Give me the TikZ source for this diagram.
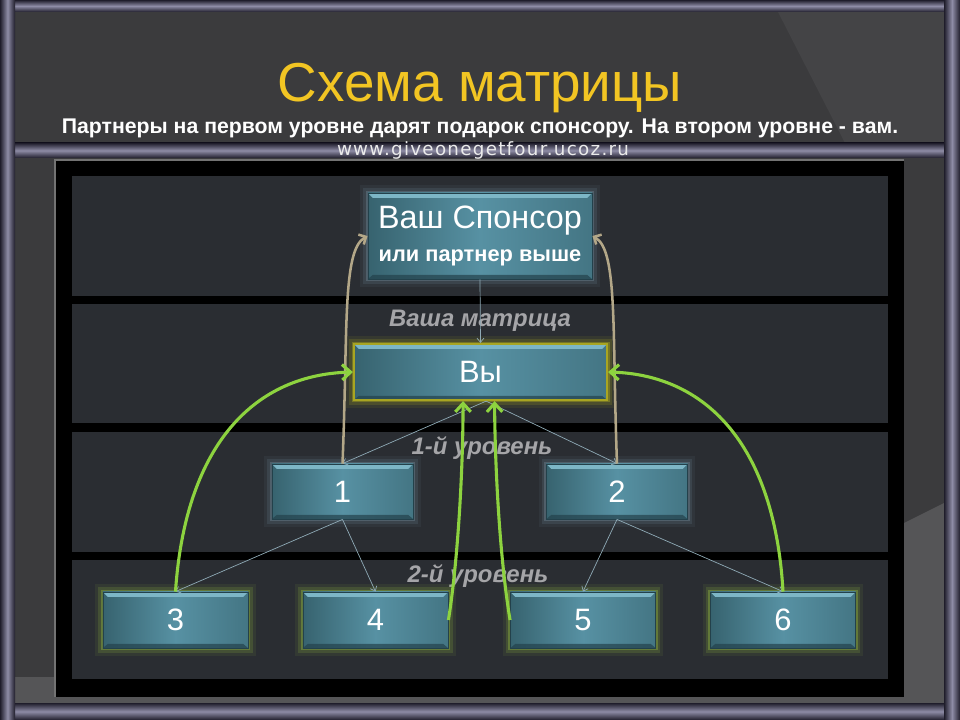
\documentclass[tikz,border=0pt]{standalone}
\usepackage{fontspec}
\setmainfont{Liberation Sans}
\newfontfamily\sitefont[LetterSpace=7]{DejaVu Sans}
\usetikzlibrary{arrows.meta}
\definecolor{bgcol}{HTML}{3B3B3D}
\definecolor{bglite}{HTML}{444446}
\definecolor{bgpale}{HTML}{555557}
\definecolor{bandd}{HTML}{1F1D2B}
\definecolor{bandl}{HTML}{8E8CA6}
\definecolor{rowcol}{HTML}{2A2D32}
\definecolor{boxdark}{HTML}{37636F}
\definecolor{boxmid}{HTML}{5791A3}
\definecolor{boxlite}{HTML}{7DB6C6}
\definecolor{boxedge}{HTML}{23414B}
\definecolor{bluehalo}{HTML}{6A8290}
\definecolor{greenhalo}{HTML}{8AAC40}
\definecolor{yellowhalo}{HTML}{A8A522}
\definecolor{linkcol}{HTML}{8FAAB6}
\definecolor{tancol}{HTML}{B3A788}
\definecolor{greencol}{HTML}{8DD33F}
\definecolor{goldcol}{HTML}{F2C523}
\definecolor{levelcol}{HTML}{A5A5A8}

\begin{document}
\begin{tikzpicture}[x=0.025cm,y=-0.025cm,
    box/.style={draw=boxedge, line width=0.6pt, left color=boxdark, right color=boxdark!60!boxmid,
        middle color=boxmid, text=white, inner sep=0pt, font=\fontsize{22}{26}\selectfont,
        path picture={
            \fill[boxlite] (path picture bounding box.north west) -- (path picture bounding box.north east)
                -- ([xshift=-3.5pt,yshift=-3.5pt]path picture bounding box.north east)
                -- ([xshift=3.5pt,yshift=-3.5pt]path picture bounding box.north west) -- cycle;
            \fill[boxedge, opacity=0.7] (path picture bounding box.south west) -- (path picture bounding box.south east)
                -- ([xshift=-3.5pt,yshift=3pt]path picture bounding box.south east)
                -- ([xshift=3.5pt,yshift=3pt]path picture bounding box.south west) -- cycle;}},
    halo/.style={preaction={draw=#1, line width=11pt, opacity=0.1},
        preaction={draw=#1, line width=7pt, opacity=0.2},
        preaction={draw=#1, line width=3.5pt, opacity=0.45}},
    small/.style={box, halo=bluehalo, minimum width=3.525cm, minimum height=1.375cm},
    low/.style={box, halo=greenhalo, minimum width=3.625cm, minimum height=1.4cm},
    level/.style={text=levelcol, font=\fontsize{17}{20}\selectfont\bfseries\itshape, anchor=base},
    link/.style={draw=linkcol, line width=0.5pt, -{Straight Barb[length=3pt,width=5pt]}},
    upto/.style={draw=tancol, line width=1.8pt, -{Straight Barb[length=4pt,width=8pt]}},
    gift/.style={draw=greencol, line width=2.2pt, -{Straight Barb[length=6pt,width=11pt]}}]
    \useasboundingbox (0,0) rectangle (960,720);
    \fill[bgcol] (0,0) rectangle (960,720);
    \fill[bglite] (778,12) -- (944,12) -- (944,143) -- (845,143) -- cycle;
    \fill[bgpale] (15,677) rectangle (944,703);
    \fill[bgpale] (904,523) -- (944,503) -- (944,703) -- (904,703) -- cycle;
    \shade[top color=bandd, bottom color=bandd, middle color=bandl] (0,0) rectangle (960,12);
    \shade[top color=bandd, bottom color=bandd, middle color=bandl] (15,143) rectangle (944,158);
    \shade[top color=bandd, bottom color=bandd, middle color=bandl] (0,703) rectangle (960,720);
    \shade[left color=bandd, right color=bandd, middle color=bandl] (0,0) rectangle (15,720);
    \shade[left color=bandd, right color=bandd, middle color=bandl] (944,0) rectangle (960,720);

    \node[anchor=base, text=goldcol, font=\fontsize{39}{46}\selectfont] (title) at (480,102) {Схема матрицы};
    \node[anchor=base, text=white, inner sep=0pt] (note) at (480,134)
        {\resizebox{20.9cm}{!}{\fontsize{14}{16}\selectfont\bfseries Партнеры на первом уровне дарят подарок спонсору. На втором уровне - вам.}};
    \node[anchor=base, text=black!8, inner sep=0pt, font=\fontsize{13}{15}\sitefont] (site) at (483,155.5)
        {www.giveonegetfour.ucoz.ru};

    \fill[black] (55,160) rectangle (904,697);
    \draw[black!55, line width=0.8pt] (55,697) -- (55,160) -- (904,160);
    \foreach \top/\bot in {176/296,304/423,432/552,560/679}
        \fill[rowcol] (72,\top) rectangle (888,\bot);

    \node[level] (lvl0) at (480,327) {Ваша матрица};
    \node[level] (lvl1) at (482,455) {1-й уровень};
    \node[level] (lvl2) at (478,582) {2-й уровень};

    \node[box, halo=bluehalo, minimum width=5.6cm, minimum height=2.15cm, align=center] (spon) at (480,236)
        {\fontsize{23}{30}\selectfont Ваш Спонсор\\[-2pt]{\fontsize{15.5}{18}\selectfont\bfseries или партнер выше}};
    \node[box, halo=yellowhalo, draw=yellowhalo, line width=1.6pt, minimum width=6.325cm, minimum height=1.4cm] (you) at (480.5,372) {Вы};
    \node[small] (p1) at (342.5,491.5) {1};
    \node[small] (p2) at (617,491.5) {2};
    \node[low] (p3) at (175.5,620) {3};
    \node[low] (p4) at (375.5,620) {4};
    \node[low] (p5) at (583,620) {5};
    \node[low] (p6) at (783,620) {6};

    \draw[link] (spon.south) -- (you.north);
    \draw[link] ([xshift=4pt]you.south) -- (p1.north);
    \draw[link] ([xshift=4pt]you.south) -- (p2.north);
    \draw[link] (p1.south) -- (p3.north);
    \draw[link] (p1.south) -- (p4.north);
    \draw[link] (p2.south) -- (p5.north);
    \draw[link] (p2.south) -- (p6.north);

    \draw[upto] (p1.north) .. controls (348,330) and (342,250) .. (spon.west);
    \draw[upto] (p2.north) .. controls (612,330) and (618,250) .. (spon.east);

    \draw[gift] (p3.north) .. controls (185,450) and (250,375) .. (you.west);
    \draw[gift] (p6.north) .. controls (775,450) and (710,375) .. (you.east);
    \draw[gift] (p4.east) .. controls (458,560) and (463,470) .. ([xshift=-12.4pt]you.south);
    \draw[gift] (p5.west) .. controls (500,560) and (495,470) .. ([xshift=10pt]you.south);
\end{tikzpicture}
\end{document}
